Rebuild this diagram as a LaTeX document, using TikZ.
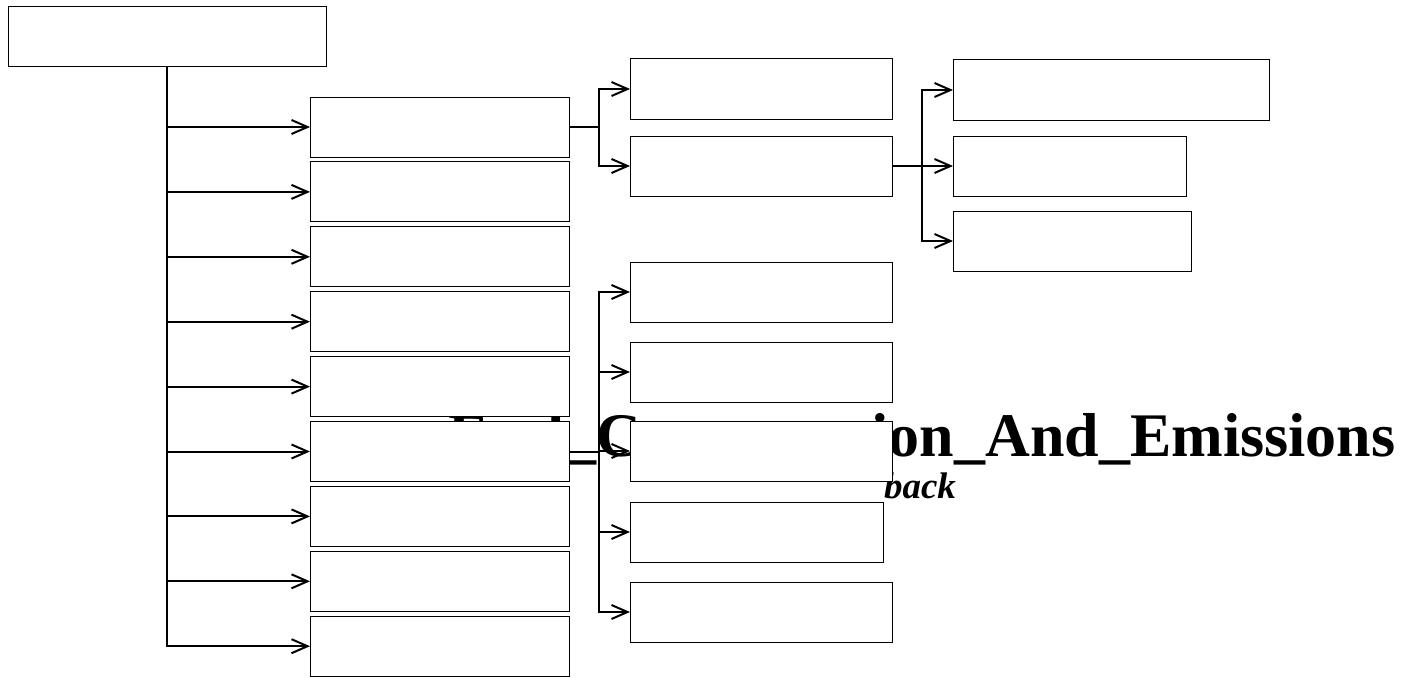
\documentclass[tikz,border=0pt]{standalone}
\usepackage{fontspec}
\setmainfont{Liberation Serif}
\usetikzlibrary{arrows.meta,positioning}

\begin{document}
\begin{tikzpicture}[x=1pt,y=-1pt,->,>={Straight Barb[length=16pt,width=14pt]},line width=2pt,
  node distance=4.9pt,
  box/.style={draw,fill=white,line width=1pt,minimum height=60pt,inner sep=0pt,outer sep=0pt},
  mid box/.style={box,minimum width=259pt},
  leaf box/.style={box,minimum width=262pt}]

  \useasboundingbox (0,0) rectangle (1402,677);

  % titles sit behind the boxes
  \node[anchor=base west,inner sep=0pt,font=\fontsize{62}{62}\selectfont\bfseries] (title) at (447,456) {Fuel\_Consumption\_And\_Emissions};
  \node[anchor=base,inner sep=0pt,font=\fontsize{37}{37}\selectfont\bfseries\itshape] (subtitle) at (920,498) {back};

  \node[box,minimum width=318pt,anchor=north west] (root) at (8,7) {};

  \node[mid box,anchor=north west] (l1) at (310,97) {};
  \node[mid box] (l2) [below=of l1] {};
  \node[mid box] (l3) [below=of l2] {};
  \node[mid box] (l4) [below=of l3] {};
  \node[mid box] (l5) [below=of l4] {};
  \node[mid box] (l6) [below=of l5] {};
  \node[mid box] (l7) [below=of l6] {};
  \node[mid box] (l8) [below=of l7] {};
  \node[mid box] (l9) [below=of l8] {};

  \node[leaf box,anchor=north west] (a1) at (630,59) {};
  \node[leaf box] (a2) [below=17pt of a1] {};

  \node[box,minimum width=316pt,anchor=north west] (b1) at (953,60) {};
  \node[box,minimum width=233pt,anchor=north west] (b2) at (953,136) {};
  \node[box,minimum width=238pt,anchor=north west] (b3) at (953,211) {};

  \node[leaf box,anchor=north west] (c1) at (630,262) {};
  \node[leaf box,anchor=north west] (c2) at (630,342) {};
  \node[leaf box,anchor=north west] (c3) at (630,421) {};
  \node[box,minimum width=253pt,anchor=north west] (c4) at (630,502) {};
  \node[leaf box,anchor=north west] (c5) at (630,582) {};

  \foreach \n in {1,...,9}
    \draw (root.south) |- (l\n.west);
  \foreach \n in {1,2}
    \draw (l1.east) -- ++(30,0) |- (a\n.west);
  \foreach \n in {1,2,3}
    \draw (a2.east) -- ++(30,0) |- (b\n.west);
  \foreach \n in {1,...,5}
    \draw (l6.east) -- ++(30,0) |- (c\n.west);
\end{tikzpicture}
\end{document}
